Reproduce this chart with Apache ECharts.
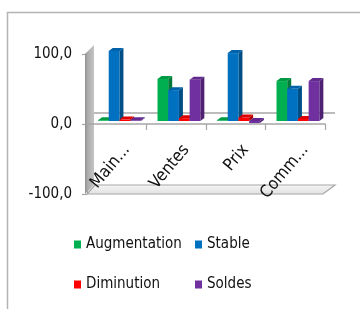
<!DOCTYPE html>
<html><head><meta charset="utf-8">
<script src="https://cdn.jsdelivr.net/npm/echarts@6/dist/echarts.min.js"></script>
<style>html,body{margin:0;padding:0;background:#fff;overflow:hidden}#c{width:360px;height:309px}</style>
</head><body><div id="c"></div>
<script>
// ---- data ----
const categories = ['Main...', 'Ventes', 'Prix', 'Comm...'];
const augmentation = [1, 60, 1, 57];
const stable = [100, 44, 97, 46];
const diminution = [2, 4, 5, 3];
const soldes = [1, 59, -3, 57];
const yTickValues = [-100, 0, 100];
const seriesNames = ['Augmentation', 'Stable', 'Diminution', 'Soldes'];

// ---- styles ----
const FONT = "'DejaVu Sans Condensed','Liberation Sans Narrow',sans-serif";
const palette = [
  {front: '#00B050', side: '#007a38', top: '#009a45'},
  {front: '#0070C0', side: '#004e86', top: '#0062aa'},
  {front: '#FF0000', side: '#b00000', top: '#dd0000'},
  {front: '#7030A0', side: '#4e2270', top: '#62298e'}
];
const seriesData = [augmentation, stable, diminution, soldes];

function barRenderer(k) {
  const col = palette[k];
  return function (params, api) {
    const ci = api.value(0), v = api.value(1);
    const band = api.size([1, 0])[0];
    const c0 = api.coord([ci, 0]);
    const c1 = api.coord([ci, v]);
    const bw = band * 0.18;
    const x = c0[0] - band / 2 + band * 0.185 + k * bw;
    const dx = 4, dy = 3, lift = 3;
    const yb = c0[1] - lift, yt = c1[1] - lift;
    const yHi = Math.min(yb, yt), yLo = Math.max(yb, yt);
    return {
      type: 'group', children: [
        {type: 'polygon', shape: {points: [[x + bw, yHi], [x + bw + dx, yHi - dy], [x + bw + dx, yLo - dy], [x + bw, yLo]]}, style: {fill: col.side}},
        {type: 'rect', shape: {x: x, y: yHi, width: bw, height: Math.max(yLo - yHi, 0.5)}, style: {fill: col.front}},
        {type: 'polygon', shape: {points: [[x, yHi], [x + dx, yHi - dy], [x + bw + dx, yHi - dy], [x + bw, yHi]]}, style: {fill: col.top}}
      ]
    };
  };
}

function frameRenderer(params, api) {
  const cs = params.coordSys;
  const gx = cs.x, gy = cs.y, gw = cs.width, gh = cs.height;
  const gb = gy + gh;
  const y0 = api.coord([0, 0])[1];
  return {
    type: 'group', children: [
      {type: 'polygon', shape: {points: [[gx, gb], [gx + gw - 2, gb], [gx + gw + 10, gb - 9], [gx + 8, gb - 9]]},
        style: {fill: new echarts.graphic.LinearGradient(0, 0, 0, 1, [{offset: 0, color: '#f6f6f6'}, {offset: 1, color: '#e0e0e0'}]), stroke: '#A6A6A6', lineWidth: 1.2}},
      {type: 'polygon', shape: {points: [[gx - 2, gy], [gx + 7, gy - 9], [gx + 7, gb - 9], [gx - 2, gb]]},
        style: {fill: new echarts.graphic.LinearGradient(0, 0, 1, 0, [{offset: 0, color: '#909090'}, {offset: 0.3, color: '#acacac'}, {offset: 1, color: '#c4c4c4'}])}},
      {type: 'line', shape: {x1: gx + 7, y1: y0 - 11, x2: gx + gw + 10, y2: y0 - 11}, style: {stroke: '#A6A6A6', lineWidth: 1.5}}
    ]
  };
}

const chart = echarts.init(document.getElementById('c'), null, {renderer: 'canvas'});

const series = [{
  type: 'custom', name: '_frame', silent: true, z: 1,
  xAxisIndex: 0, yAxisIndex: 0,
  renderItem: frameRenderer, data: [[0, 0]]
}];
seriesNames.forEach((n, k) => {
  series.push({
    type: 'custom', name: n, z: 2,
    xAxisIndex: 0, yAxisIndex: 0,
    itemStyle: {color: palette[k].front},
    renderItem: barRenderer(k),
    data: seriesData[k].map((v, i) => [i, v])
  });
});

const legendBase = {
  icon: 'rect', itemWidth: 7, itemHeight: 8, padding: 0, itemGap: 0,
  selectedMode: false,
  textStyle: {fontFamily: FONT, fontSize: 15, color: '#111'}
};

chart.setOption({
  animation: false,
  backgroundColor: '#fff',
  graphic: [{type: 'polyline', shape: {points: [[7.5, 330], [7.5, 12.5], [380, 12.5]]}, style: {fill: null, stroke: '#B4B4B4', lineWidth: 1.5}, silent: true}],
  grid: [
    {left: 87, top: 54, width: 238, height: 140},
    {left: 97, top: 54, width: 238, height: 70}
  ],
  xAxis: [
    {gridIndex: 0, type: 'category', data: categories, z: 3,
      axisLine: {onZero: true, lineStyle: {color: '#A6A6A6', width: 1.5}},
      axisTick: {show: true, length: 6, lineStyle: {color: '#A6A6A6', width: 1.2}},
      axisLabel: {show: false}},
    {gridIndex: 1, type: 'category', data: categories, position: 'bottom', z: 6,
      axisLine: {show: false, onZero: false}, axisTick: {show: false},
      axisLabel: {show: true, rotate: 50, margin: 23, interval: 0, fontFamily: FONT, fontSize: 17, color: '#111'}}
  ],
  yAxis: [
    {gridIndex: 0, type: 'value', min: -100, max: 100, interval: 100,
      splitLine: {show: false},
      axisLine: {show: true, lineStyle: {color: '#A6A6A6'}},
      axisTick: {show: true, length: 5, lineStyle: {color: '#A6A6A6', width: 1.2}},
      axisLabel: {margin: 15, fontFamily: FONT, fontSize: 15, color: '#111', padding: [3, 0, 0, 0],
        formatter: v => yTickValues.includes(v) ? v.toFixed(1).replace('.', ',') : ''}},
    {gridIndex: 1, type: 'value', min: 0, max: 100, show: false}
  ],
  legend: [
    Object.assign({}, legendBase, {data: ['Augmentation'], left: 74, top: 237}),
    Object.assign({}, legendBase, {data: ['Stable'], left: 195, top: 237}),
    Object.assign({}, legendBase, {data: ['Diminution'], left: 74, top: 277}),
    Object.assign({}, legendBase, {data: ['Soldes'], left: 195, top: 277})
  ],
  series: series
});
</script></body></html>
